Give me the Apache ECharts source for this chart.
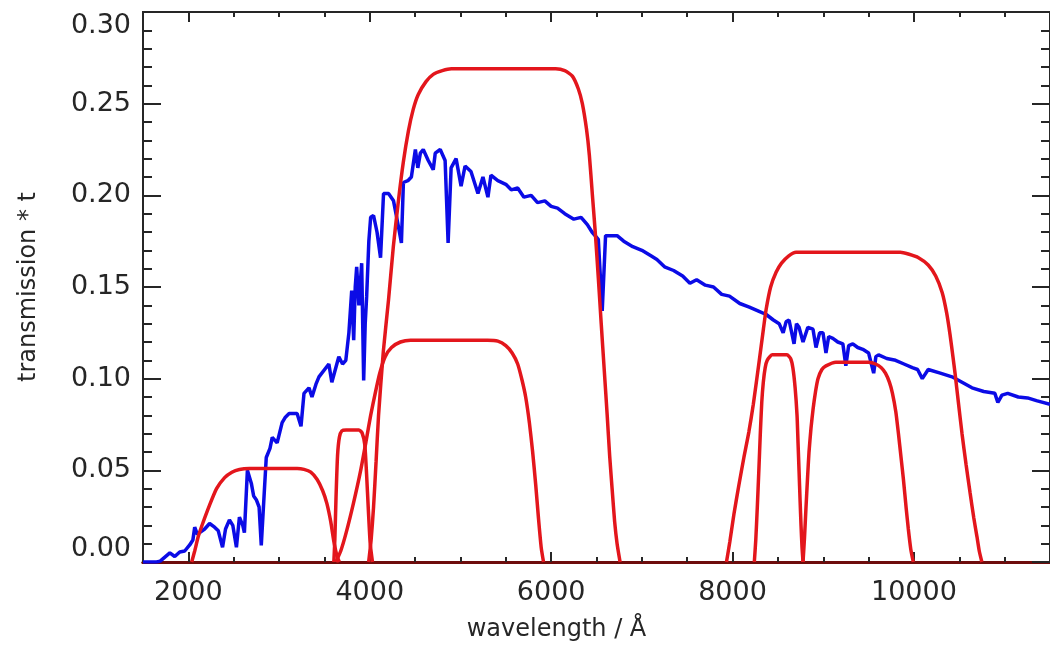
<!DOCTYPE html>
<html>
<head>
<meta charset="utf-8">
<script src="https://cdn.jsdelivr.net/npm/echarts@6.0.0/dist/echarts.min.js"></script>
<style>
  html, body { margin: 0; padding: 0; background: #fff; }
  #chart { width: 1050px; height: 654px; }
</style>
</head>
<body>
<div id="chart"></div>
<script>
// wavelength (Å) / value pairs
const spectrum = [
  [1500, 0], [1650, 0], [1690, 0.0005], [1796, 0.005], [1850, 0.003], [1905, 0.0055], [1960, 0.006],
  [2015, 0.0093], [2050, 0.012], [2070, 0.019], [2100, 0.015], [2125, 0.016], [2180, 0.018], [2234, 0.021],
  [2289, 0.019], [2330, 0.017], [2377, 0.008], [2410, 0.018], [2453, 0.023], [2490, 0.02], [2530, 0.008],
  [2563, 0.0245], [2600, 0.02], [2618, 0.016], [2651, 0.05], [2694, 0.043], [2720, 0.036], [2749, 0.034],
  [2780, 0.03], [2804, 0.009], [2837, 0.038], [2859, 0.057], [2900, 0.062], [2925, 0.068], [2979, 0.065],
  [3034, 0.076], [3070, 0.079], [3111, 0.081], [3199, 0.081], [3242, 0.074], [3275, 0.092], [3330, 0.095],
  [3363, 0.09], [3407, 0.097], [3440, 0.101], [3549, 0.108], [3582, 0.098], [3659, 0.112], [3700, 0.108],
  [3736, 0.11], [3770, 0.125], [3801, 0.148], [3823, 0.121], [3840, 0.15], [3856, 0.161], [3880, 0.14],
  [3900, 0.155], [3911, 0.163], [3933, 0.099], [3950, 0.13], [3966, 0.145], [3990, 0.175], [4010, 0.188],
  [4042, 0.189], [4080, 0.18], [4119, 0.166], [4152, 0.201], [4207, 0.201], [4262, 0.197], [4316, 0.183],
  [4349, 0.174], [4371, 0.207], [4420, 0.208], [4459, 0.21], [4503, 0.225], [4530, 0.215], [4558, 0.223],
  [4590, 0.225], [4645, 0.219], [4700, 0.214], [4722, 0.223], [4777, 0.225], [4831, 0.219], [4864, 0.174],
  [4897, 0.215], [4952, 0.22], [5007, 0.205], [5051, 0.216], [5116, 0.213], [5193, 0.201], [5248, 0.21],
  [5303, 0.199], [5336, 0.211], [5412, 0.208], [5500, 0.206], [5560, 0.203], [5631, 0.204], [5700, 0.199],
  [5780, 0.2], [5850, 0.196], [5930, 0.197], [6000, 0.194], [6070, 0.193], [6150, 0.19], [6250, 0.187],
  [6330, 0.188], [6399, 0.184], [6450, 0.18], [6520, 0.176], [6563, 0.137], [6600, 0.178], [6727, 0.178],
  [6800, 0.175], [6900, 0.172], [7000, 0.17], [7100, 0.167], [7166, 0.165], [7250, 0.161], [7350, 0.159],
  [7450, 0.156], [7530, 0.152], [7604, 0.154], [7700, 0.151], [7790, 0.15], [7880, 0.146], [7966, 0.145],
  [8080, 0.141], [8185, 0.139], [8280, 0.137], [8371, 0.135], [8450, 0.132], [8514, 0.13], [8558, 0.125],
  [8590, 0.131], [8623, 0.132], [8678, 0.119], [8705, 0.13], [8733, 0.128], [8777, 0.12], [8830, 0.128],
  [8887, 0.127], [8920, 0.117], [8960, 0.125], [8997, 0.125], [9030, 0.114], [9060, 0.123], [9106, 0.122],
  [9160, 0.12], [9216, 0.119], [9249, 0.107], [9280, 0.118], [9326, 0.119], [9380, 0.117], [9436, 0.116],
  [9500, 0.114], [9556, 0.103], [9580, 0.112], [9610, 0.113], [9700, 0.111], [9797, 0.11], [9890, 0.108],
  [9982, 0.106], [10040, 0.105], [10092, 0.1], [10157, 0.105], [10290, 0.103], [10420, 0.101], [10530, 0.098],
  [10640, 0.095], [10770, 0.093], [10892, 0.092], [10925, 0.087], [10970, 0.091], [11034, 0.092],
  [11150, 0.09], [11253, 0.0895], [11350, 0.088], [11500, 0.086]
]

const filterUV = [
  [2037, 0], [2070, 0.006], [2110, 0.014], [2158, 0.021], [2234, 0.031], [2311, 0.04], [2400, 0.046],
  [2480, 0.049], [2563, 0.0505], [2673, 0.051], [3200, 0.051], [3275, 0.0505], [3350, 0.049], [3420, 0.045],
  [3480, 0.039], [3527, 0.032], [3570, 0.022], [3605, 0.011], [3640, 0.003], [3665, 0]
]
const filterNarrowBlue = [
  [3604, 0], [3615, 0.012], [3628, 0.035], [3645, 0.058], [3665, 0.068], [3692, 0.0715], [3740, 0.072],
  [3880, 0.072], [3915, 0.0705], [3945, 0.064], [3965, 0.048], [3985, 0.028], [4005, 0.01], [4030, 0]
]
const filterGreen = [
  [3626, 0], [3680, 0.006], [3740, 0.016], [3820, 0.032], [3900, 0.05], [3960, 0.066], [4010, 0.08],
  [4060, 0.092], [4110, 0.103], [4170, 0.112], [4240, 0.117], [4338, 0.12], [4450, 0.121], [5300, 0.121],
  [5412, 0.1205], [5500, 0.118], [5570, 0.114], [5631, 0.108], [5680, 0.099], [5719, 0.09], [5760, 0.076],
  [5796, 0.06], [5830, 0.042], [5860, 0.024], [5890, 0.008], [5916, 0]
]
const filterWide = [
  [3988, 0], [4015, 0.012], [4042, 0.03], [4070, 0.055], [4097, 0.08], [4150, 0.115], [4207, 0.143],
  [4260, 0.172], [4316, 0.197], [4370, 0.218], [4426, 0.235], [4480, 0.247], [4535, 0.255], [4620, 0.262],
  [4700, 0.266], [4800, 0.268], [4900, 0.269], [6050, 0.269], [6150, 0.268], [6234, 0.265], [6300, 0.258],
  [6344, 0.25], [6390, 0.236], [6421, 0.222], [6455, 0.2], [6486, 0.18], [6520, 0.155], [6552, 0.13],
  [6585, 0.105], [6618, 0.08], [6645, 0.058], [6672, 0.04], [6700, 0.022], [6727, 0.01], [6760, 0]
]
const filterRed = [
  [7933, 0], [7970, 0.011], [8015, 0.026], [8070, 0.042], [8125, 0.057], [8180, 0.071], [8229, 0.086],
  [8295, 0.11], [8340, 0.127], [8371, 0.138], [8420, 0.15], [8480, 0.158], [8540, 0.163], [8620, 0.167],
  [8700, 0.169], [8800, 0.169], [9850, 0.169], [9938, 0.168], [10050, 0.166], [10157, 0.162], [10240, 0.156],
  [10311, 0.147], [10360, 0.136], [10398, 0.124], [10430, 0.112], [10453, 0.103], [10490, 0.087],
  [10530, 0.07], [10575, 0.053], [10618, 0.038], [10660, 0.024], [10694, 0.014], [10720, 0.006], [10749, 0]
]
const filterNarrowRed = [
  [8240, 0], [8256, 0.012], [8273, 0.03], [8290, 0.05], [8306, 0.07], [8322, 0.087], [8339, 0.098],
  [8360, 0.106], [8382, 0.11], [8437, 0.113], [8600, 0.113], [8640, 0.111], [8665, 0.106], [8690, 0.095],
  [8711, 0.08], [8722, 0.065], [8733, 0.05], [8745, 0.033], [8755, 0.02], [8766, 0.008], [8777, 0]
]
const filterIR = [
  [8777, 0], [8793, 0.013], [8810, 0.03], [8827, 0.046], [8843, 0.06], [8865, 0.073], [8887, 0.083],
  [8915, 0.093], [8942, 0.1], [8985, 0.105], [9030, 0.107], [9139, 0.109], [9500, 0.109], [9577, 0.108],
  [9640, 0.106], [9686, 0.103], [9730, 0.098], [9763, 0.092], [9800, 0.082], [9829, 0.07], [9860, 0.056],
  [9884, 0.045], [9915, 0.029], [9938, 0.018], [9965, 0.007], [9993, 0]
]

const xMajorTicks = [2000, 4000, 6000, 8000, 10000]
const filters = [filterUV, filterNarrowBlue, filterGreen, filterWide, filterRed, filterNarrowRed, filterIR]

const font = 'DejaVu Sans'
const ink = '#262626'

function xAxisFor(position, major, withLabels) {
  return {
    type: 'value',
    position,
    min: 1500,
    max: 11500,
    interval: major ? undefined : 500,
    axisLine: {
      onZero: false,
      lineStyle: { color: position === 'bottom' ? '#6e0c0c' : ink, width: position === 'bottom' ? 3 : 2 },
    },
    axisTick: {
      inside: true,
      length: major ? 10 : 5,
      customValues: major ? xMajorTicks : undefined,
      lineStyle: { color: ink, width: 2 },
    },
    axisLabel: {
      show: withLabels,
      customValues: major ? xMajorTicks : undefined,
      formatter: (v) => String(v),
      fontFamily: font,
      fontSize: 27,
      color: ink,
      margin: 17,
    },
    splitLine: { show: false },
  }
}

function yAxisFor(position, withLabels) {
  return {
    type: 'value',
    position,
    min: 0,
    max: 0.3,
    interval: 0.05,
    axisLine: { onZero: false, lineStyle: { color: ink, width: 2 } },
    axisTick: { inside: true, length: 18, lineStyle: { color: ink, width: 2 } },
    minorTick: { show: true, splitNumber: 5, length: 9, lineStyle: { color: ink, width: 2 } },
    axisLabel: {
      show: withLabels,
      formatter: (v) => v.toFixed(2),
      fontFamily: font,
      fontSize: 27,
      color: ink,
      margin: 12,
      verticalAlignMinLabel: 'bottom',
      verticalAlignMaxLabel: 'top',
    },
    splitLine: { show: false },
  }
}

const chart = echarts.init(document.getElementById('chart'), undefined, { renderer: 'canvas' })

const xBottomMajor = xAxisFor('bottom', true, true)
xBottomMajor.name = 'wavelength / Å'
xBottomMajor.nameLocation = 'middle'
xBottomMajor.nameGap = 56
xBottomMajor.nameTextStyle = { fontFamily: font, fontSize: 24, color: ink, padding: [0, 80, 0, 0] }

const yLeft = yAxisFor('left', true)
yLeft.name = 'transmission * t'
yLeft.nameLocation = 'middle'
yLeft.nameGap = 102
yLeft.nameTextStyle = { fontFamily: font, fontSize: 24, color: ink }

chart.setOption({
  animation: false,
  backgroundColor: '#fff',
  grid: { left: 143, top: 12, width: 913, height: 550, containLabel: false },
  xAxis: [
    xAxisFor('bottom', false, false),
    xBottomMajor,
    xAxisFor('top', false, false),
    xAxisFor('top', true, false),
  ],
  yAxis: [yLeft, yAxisFor('right', false)],
  series: [
    {
      type: 'line',
      data: spectrum,
      xAxisIndex: 0,
      yAxisIndex: 0,
      showSymbol: false,
      lineStyle: { color: '#0b0be6', width: 3.5 },
      z: 2,
    },
    ...filters.map((f) => ({
      type: 'line',
      data: f,
      xAxisIndex: 0,
      yAxisIndex: 0,
      showSymbol: false,
      smooth: 0.2,
      lineStyle: { color: '#e3161c', width: 3.5 },
      z: 3,
    })),
  ],
})
</script>
</body>
</html>
